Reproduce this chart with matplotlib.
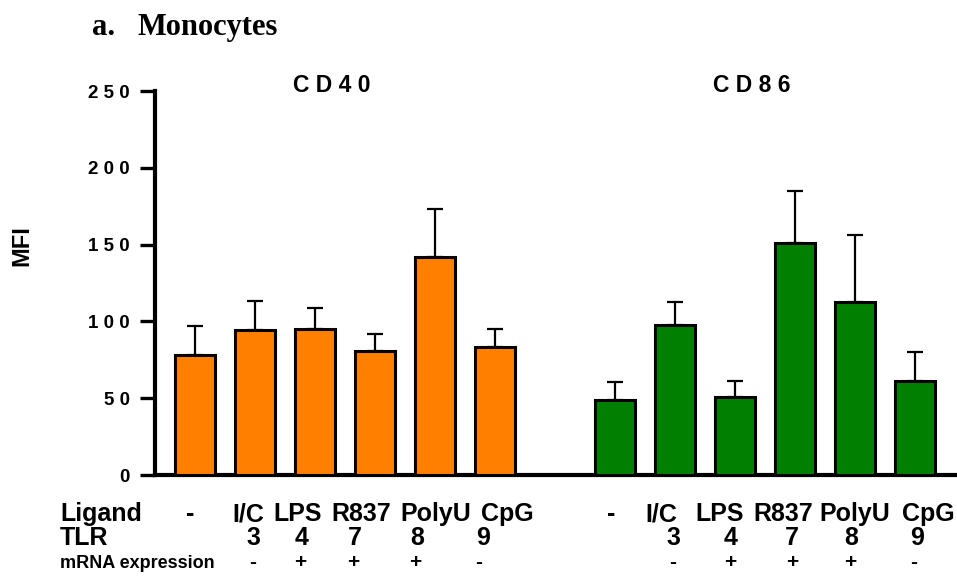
import matplotlib.pyplot as plt
from matplotlib.transforms import blended_transform_factory

plt.rcParams["font.family"] = ["Liberation Sans", "DejaVu Sans"]

# stimulation ligands and their receptors
ligands = ["-", "I/C", "LPS", "R837", "PolyU", "CpG"]
tlr = ["3", "4", "7", "8", "9"]
mrna = ["-", "+", "+", "+", "-"]

# mean fluorescence intensity with upper error (SEM)
cd40_mean = [78, 94.5, 95, 80.5, 142, 83.5]
cd40_err = [19, 18.5, 14, 11.5, 31.5, 11.5]
cd86_mean = [49, 97.5, 50.5, 151, 112.5, 61]
cd86_err = [11.5, 15, 11, 34, 43.5, 19]

yticks = [0, 50, 100, 150, 200, 250]

W, H = 957, 584
fig = plt.figure(figsize=(W / 100, H / 100), dpi=100)
ax = fig.add_axes([155 / W, 1 - 475 / H, 1 - 155 / W, 384 / H])

x40 = list(range(6))
x86 = list(range(7, 13))
for xs, mean, err, col in [(x40, cd40_mean, cd40_err, "#FF8000"),
                           (x86, cd86_mean, cd86_err, "#007F00")]:
    ax.bar(xs, mean, width=0.68, color=col, edgecolor="black",
           linewidth=2.2, zorder=3)
    ax.errorbar(xs, mean, yerr=[[0] * len(err), err], fmt="none",
                ecolor="black", elinewidth=1.6, capsize=6, capthick=1.6,
                zorder=2)

ax.set_xlim(-0.667, 12.7)
ax.set_ylim(0, 250)
ax.set_xticks([])
ax.set_yticks(yticks)
ax.set_yticklabels([" ".join(str(v)) for v in yticks],
                   fontsize=13.5, fontweight="bold")
ax.tick_params(axis="y", length=11, width=2.4, pad=7)
for s in ["top", "right"]:
    ax.spines[s].set_visible(False)
for s in ["left", "bottom"]:
    ax.spines[s].set_linewidth(3)

# helpers: pixel rows -> figure fraction
def fy(py):
    return 1 - py / H

fig.text(22 / W, fy(246), "MFI", rotation=90, ha="center", va="center",
         fontsize=17, fontweight="bold")
fig.text(92 / W, fy(35), "a.", fontsize=22, fontweight="bold",
         family="Liberation Serif", va="baseline")
fig.text(138 / W, fy(35), "Monocytes", fontsize=22, fontweight="bold",
         family="Liberation Serif", va="baseline")
fig.text(331.5 / W, fy(92), "C D 4 0", fontsize=16.5, fontweight="bold",
         ha="center", va="baseline")
fig.text(752 / W, fy(92), "C D 8 6", fontsize=16.5, fontweight="bold",
         ha="center", va="baseline")

# table of ligand / TLR / mRNA under the bars
tr = blended_transform_factory(ax.transData, fig.transFigure)
lig_pos = [[-0.08, 0.89, 1.71, 2.77, 4.02, 5.21],
           [6.93, 7.78, 8.75, 9.8, 11.0, 12.22]]
tlr_pos = [[0.98, 1.78, 2.67, 3.70, 4.80],
           [7.97, 8.92, 9.95, 10.93, 12.03]]
mrna_pos = [[0.96, 1.75, 2.63, 3.67, 4.73],
            [7.96, 8.92, 9.95, 10.92, 11.97]]
row_y = [521, 545, 568]
big = 18

fig.text(60 / W, fy(row_y[0]), "Ligand", fontsize=big, fontweight="bold",
         va="baseline")
fig.text(60 / W, fy(row_y[1]), "TLR", fontsize=big, fontweight="bold",
         va="baseline")
fig.text(60 / W, fy(row_y[2]), "mRNA expression", fontsize=13,
         fontweight="bold", va="baseline")
for g in range(2):
    for x, t in zip(lig_pos[g], ligands):
        ax.text(x, fy(row_y[0]), t, transform=tr, ha="center",
                va="baseline", fontsize=big, fontweight="bold", clip_on=False)
    for x, t in zip(tlr_pos[g], tlr):
        ax.text(x, fy(row_y[1]), t, transform=tr, ha="center",
                va="baseline", fontsize=big, fontweight="bold", clip_on=False)
    for x, t in zip(mrna_pos[g], mrna):
        ax.text(x, fy(row_y[2]), t, transform=tr, ha="center",
                va="baseline", fontsize=15, fontweight="bold", clip_on=False)

fig.savefig("out.png", dpi=100)
